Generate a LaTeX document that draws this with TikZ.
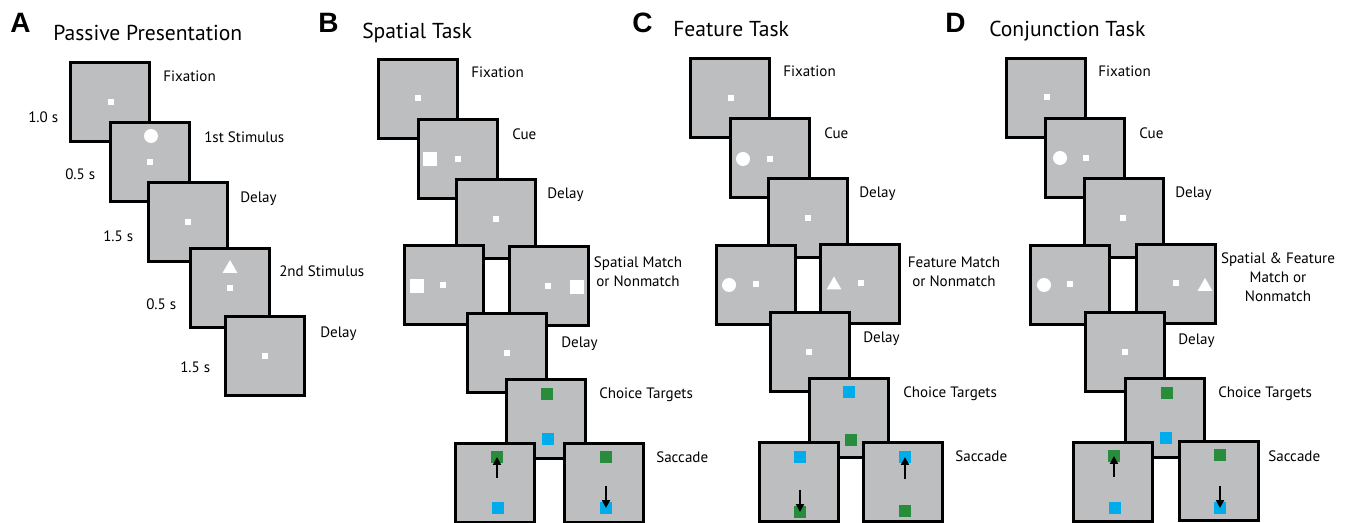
\documentclass[tikz,border=0pt]{standalone}
\usepackage{fontspec}
\setmainfont{PT Sans}
\newfontfamily\panelfont{Liberation Sans}
\usetikzlibrary{arrows.meta}
\definecolor{scrgray}{RGB}{188,190,192}
\definecolor{tgreen}{RGB}{40,140,60}
\definecolor{tblue}{RGB}{0,172,236}
\begin{document}
\begin{tikzpicture}[x=0.75pt,y=-0.75pt,
 screen/.style={draw=black,fill=scrgray,line width=2pt,minimum width=59.5pt,minimum height=59.5pt,inner sep=0pt,outer sep=0pt},
 fixdot/.style={fill=white,minimum size=5pt,inner sep=0pt},
 bigsq/.style={fill=white,minimum size=10.5pt,inner sep=0pt},
 stimcirc/.style={circle,fill=white,minimum size=10.5pt,inner sep=0pt},
 gtarget/.style={fill=tgreen,minimum size=9pt,inner sep=0pt},
 btarget/.style={fill=tblue,minimum size=9pt,inner sep=0pt},
 lbl/.style={anchor=base west,inner sep=0pt,font=\fontsize{11.3}{14.25}\selectfont},
 clbl/.style={anchor=base,inner sep=0pt,align=center,font=\fontsize{11.3}{14.25}\selectfont},
 ttl/.style={anchor=base west,inner sep=0pt,font=\fontsize{16.2}{19}\selectfont},
 letter/.style={anchor=base west,inner sep=0pt,font=\panelfont\bfseries\fontsize{21}{24}\selectfont},
 saccarrow/.style={line width=1.5pt,-{Triangle[length=6pt,width=6pt]}},
 stimtri/.style={fill=white}
]
\useasboundingbox (0,0) rectangle (1345,523);
\fill[white] (0,0) rectangle (1345,523);
\clip (0,0) rectangle (1345,523);

% ---------------- Panel A ----------------
\node[letter] (la) at (10,33) {A};
\node[ttl] (ta) at (53,41) {Passive Presentation};
\node[screen] (a1) at (110,102) {};
\node[fixdot] (a1f) at (111,102) {};
\node[screen] (a2) at (150,162) {};
\node[stimcirc] (a2c) at (151,136) {};
\node[fixdot] (a2f) at (150,162) {};
\node[screen] (a3) at (188,222) {};
\node[fixdot] (a3f) at (188,222) {};
\node[screen] (a4) at (230,288) {};
\fill[stimtri] (222.5,273) -- (237.5,273) -- (230,260) -- cycle;
\node[fixdot] (a4f) at (230,288) {};
\node[screen] (a5) at (265,356) {};
\node[fixdot] (a5f) at (265,356) {};
\node[lbl] (a1l) at (163,82) {Fixation};
\node[lbl] (a2l) at (204,143) {1st Stimulus};
\node[lbl] (a3l) at (240,203) {Delay};
\node[lbl] (a4l) at (279,277) {2nd Stimulus};
\node[lbl] (a5l) at (320,338) {Delay};
\node[lbl] (a1t) at (28,123) {1.0 s};
\node[lbl] (a2t) at (65,180) {0.5 s};
\node[lbl] (a3t) at (103,242) {1.5 s};
\node[lbl] (a4t) at (146,310) {0.5 s};
\node[lbl] (a5t) at (180,373) {1.5 s};

% ---------------- Panel B ----------------
\node[letter] (lb) at (318,33) {B};
\node[ttl] (tb) at (362,39) {Spatial Task};
\node[screen] (b1) at (418,99) {};
\node[fixdot] (b1f) at (418,98) {};
\node[screen] (b2) at (458,159) {};
\node[bigsq] (b2s) at (430,159) {};
\node[fixdot] (b2f) at (458,159) {};
\node[screen] (b3) at (496,219) {};
\node[fixdot] (b3f) at (496,219) {};
\node[screen] (b4l) at (444,285) {};
\node[bigsq] (b4ls) at (417,286) {};
\node[fixdot] (b4lf) at (443,285) {};
\node[screen] (b4r) at (549,286) {};
\node[fixdot] (b4rf) at (548,286) {};
\node[bigsq] (b4rs) at (577,287) {};
\node[screen] (b5) at (507,353) {};
\node[fixdot] (b5f) at (507,353) {};
\node[screen] (b6) at (546,419) {};
\node[gtarget] (b6g) at (547,394) {};
\node[btarget] (b6b) at (548,439) {};
\node[screen] (b7l) at (495,483) {};
\node[gtarget] (b7lg) at (497,457) {};
\node[btarget] (b7lb) at (498,508) {};
\coordinate (b7la) at (497,478);
\draw[saccarrow] (b7la) -- (b7lg.center);
\node[screen] (b7r) at (604,483) {};
\node[gtarget] (b7rg) at (606,457) {};
\node[btarget] (b7rb) at (606,508) {};
\coordinate (b7ra) at (606,486);
\draw[saccarrow] (b7ra) -- (b7rb.center);
\node[lbl] (b1l) at (471,78) {Fixation};
\node[lbl] (b2l) at (512,140) {Cue};
\node[lbl] (b3l) at (547,199) {Delay};
\node[clbl] (b4l-l) at (638,287) {Spatial Match\\or Nonmatch};
\node[lbl] (b5l) at (561,348) {Delay};
\node[lbl] (b6l) at (599,399) {Choice Targets};
\node[lbl] (b7l-l) at (656,463) {Saccade};

% ---------------- Panel C ----------------
\node[letter] (lc) at (632,33) {C};
\node[ttl] (tc) at (673,37) {Feature Task};
\node[screen] (c1) at (730,98) {};
\node[fixdot] (c1f) at (731,98) {};
\node[screen] (c2) at (770,158) {};
\node[stimcirc] (c2c) at (743,159) {};
\node[fixdot] (c2f) at (770,159) {};
\node[screen] (c3) at (808,218) {};
\node[fixdot] (c3f) at (808,218) {};
\node[screen] (c4l) at (756,285) {};
\node[stimcirc] (c4lc) at (729,285) {};
\node[fixdot] (c4lf) at (756,284) {};
\node[screen] (c4r) at (860,284) {};
\fill[stimtri] (826.5,289.5) -- (841.5,289.5) -- (834,276.5) -- cycle;
\node[fixdot] (c4rf) at (861,283) {};
\node[screen] (c5) at (810,352) {};
\node[fixdot] (c5f) at (809,352) {};
\node[screen] (c6) at (849,418) {};
\node[btarget] (c6b) at (849,392) {};
\node[gtarget] (c6g) at (851,440) {};
\node[screen] (c7l) at (799,482) {};
\node[btarget] (c7lb) at (800,457) {};
\node[gtarget] (c7lg) at (800,512) {};
\coordinate (c7la) at (800,490);
\draw[saccarrow] (c7la) -- (c7lg.center);
\node[screen] (c7r) at (903,482) {};
\node[btarget] (c7rb) at (905,457) {};
\node[gtarget] (c7rg) at (905,511) {};
\coordinate (c7ra) at (905,479);
\draw[saccarrow] (c7ra) -- (c7rb.center);
\node[lbl] (c1l) at (783,77) {Fixation};
\node[lbl] (c2l) at (824,139) {Cue};
\node[lbl] (c3l) at (859,198) {Delay};
\node[clbl] (c4l-l) at (954,287) {Feature Match\\or Nonmatch};
\node[lbl] (c5l) at (863,343) {Delay};
\node[lbl] (c6l) at (903,398) {Choice Targets};
\node[lbl] (c7l-l) at (955,462) {Saccade};

% ---------------- Panel D ----------------
\node[letter] (ld) at (945,33) {D};
\node[ttl] (td) at (989,37) {Conjunction Task};
\node[screen] (d1) at (1046,98) {};
\node[fixdot] (d1f) at (1047,97) {};
\node[screen] (d2) at (1085,158) {};
\node[stimcirc] (d2c) at (1060,158) {};
\node[fixdot] (d2f) at (1086,158) {};
\node[screen] (d3) at (1124,218) {};
\node[fixdot] (d3f) at (1123,218) {};
\node[screen] (d4l) at (1070,285) {};
\node[stimcirc] (d4lc) at (1044,285) {};
\node[fixdot] (d4lf) at (1070,284) {};
\node[screen] (d4r) at (1176,284) {};
\node[fixdot] (d4rf) at (1176,283) {};
\fill[stimtri] (1197.5,291) -- (1212.5,291) -- (1205,278) -- cycle;
\node[screen] (d5) at (1125,352) {};
\node[fixdot] (d5f) at (1125,352) {};
\node[screen] (d6) at (1165,418) {};
\node[gtarget] (d6g) at (1167,393) {};
\node[btarget] (d6b) at (1166,438) {};
\node[screen] (d7l) at (1113,482) {};
\node[gtarget] (d7lg) at (1114,456) {};
\node[btarget] (d7lb) at (1115,508) {};
\coordinate (d7la) at (1114,477);
\draw[saccarrow] (d7la) -- (d7lg.center);
\node[screen] (d7r) at (1219,481) {};
\node[gtarget] (d7rg) at (1220,455) {};
\node[btarget] (d7rb) at (1220,508) {};
\coordinate (d7ra) at (1220,486);
\draw[saccarrow] (d7ra) -- (d7rb.center);
\node[lbl] (d1l) at (1098,77) {Fixation};
\node[lbl] (d2l) at (1139,139) {Cue};
\node[lbl] (d3l) at (1175,198) {Delay};
\node[clbl] (d4l-l) at (1278,302) {Spatial \& Feature\\Match or\\Nonmatch};
\node[lbl] (d5l) at (1178,345) {Delay};
\node[lbl] (d6l) at (1218,398) {Choice Targets};
\node[lbl] (d7l-l) at (1268,462) {Saccade};
\end{tikzpicture}
\end{document}
